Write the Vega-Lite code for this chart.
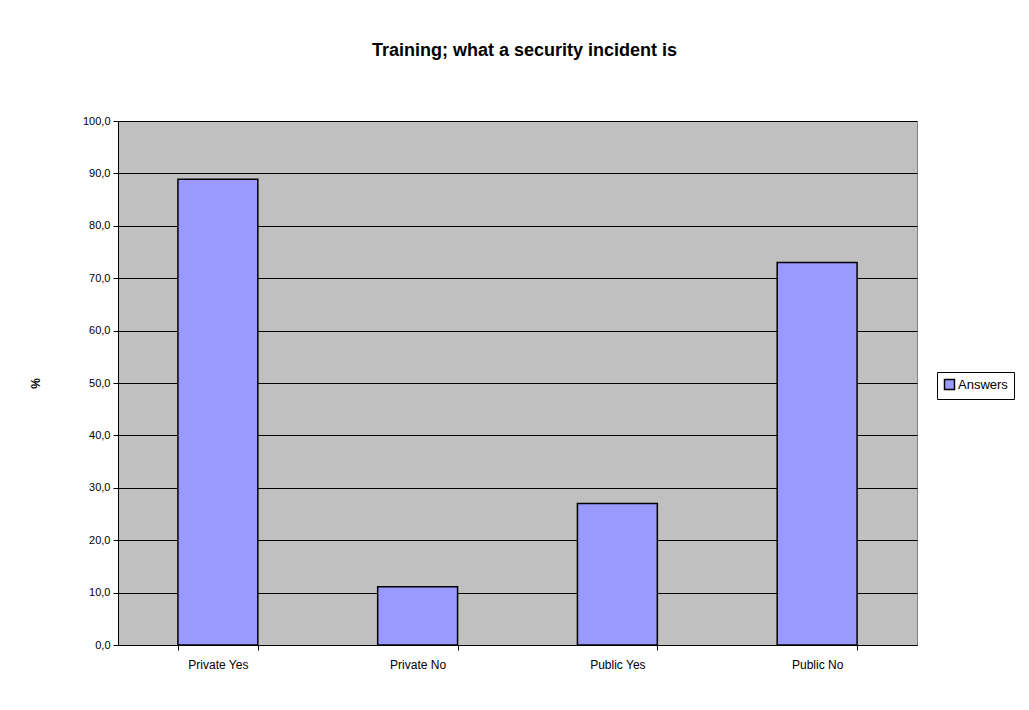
{
  "$schema": "https://vega.github.io/schema/vega-lite/v6.json",
  "autosize": {"type": "none"},
  "width": 799,
  "height": 524,
  "padding": {"left": 118, "top": 121, "right": 112, "bottom": 65},
  "background": "white",
  "title": {
    "text": "Training; what a security incident is",
    "font": "Liberation Sans",
    "fontSize": 18,
    "fontWeight": "bold",
    "color": "black",
    "anchor": "middle",
    "dx": 7,
    "offset": 55
  },
  "data": {
    "values": [
      {"group": "Private Yes", "series": "Answers", "pct": 88.9},
      {"group": "Private No", "series": "Answers", "pct": 11.1},
      {"group": "Public Yes", "series": "Answers", "pct": 27.0},
      {"group": "Public No", "series": "Answers", "pct": 73.0}
    ]
  },
  "mark": {"type": "bar", "stroke": "black", "strokeWidth": 1.5},
  "encoding": {
    "x": {
      "field": "group",
      "type": "nominal",
      "sort": null,
      "scale": {"paddingInner": 0.6, "paddingOuter": 0.3},
      "axis": {
        "title": null,
        "labelAngle": 0,
        "labelFont": "Liberation Sans",
        "labelFontSize": 12,
        "labelColor": "black",
        "labelPadding": 9,
        "tickBand": "extent",
        "tickSize": 5,
        "tickColor": "black",
        "domainColor": "black",
        "grid": false
      }
    },
    "y": {
      "field": "pct",
      "type": "quantitative",
      "scale": {"domain": [0, 100], "nice": false},
      "axis": {
        "title": "%",
        "titleFont": "Liberation Sans",
        "titleFontSize": 12,
        "titleFontWeight": "bold",
        "titleColor": "black",
        "titlePadding": 40,
        "values": [0, 10, 20, 30, 40, 50, 60, 70, 80, 90, 100],
        "labelExpr": "replace(format(datum.value, '.1f'), '.', ',')",
        "labelFont": "Liberation Sans",
        "labelFontSize": 11,
        "labelColor": "black",
        "labelPadding": 3,
        "tickSize": 5,
        "tickColor": "black",
        "domainColor": "black",
        "grid": true,
        "gridColor": "black",
        "gridOpacity": 1,
        "gridWidth": 1
      }
    },
    "color": {
      "field": "series",
      "type": "nominal",
      "scale": {"range": ["#9999FF"]},
      "legend": {
        "title": null,
        "orient": "none",
        "legendX": 819,
        "legendY": 251,
        "symbolType": "square",
        "symbolSize": 100,
        "symbolStrokeColor": "black",
        "symbolStrokeWidth": 1.5,
        "symbolOpacity": 1,
        "labelFont": "Liberation Sans",
        "labelFontSize": 13,
        "labelColor": "black",
        "labelOffset": 2,
        "strokeColor": "black",
        "fillColor": "white",
        "padding": 6
      }
    }
  },
  "config": {
    "view": {"fill": "#C0C0C0", "stroke": "#808080", "strokeWidth": 1}
  }
}
